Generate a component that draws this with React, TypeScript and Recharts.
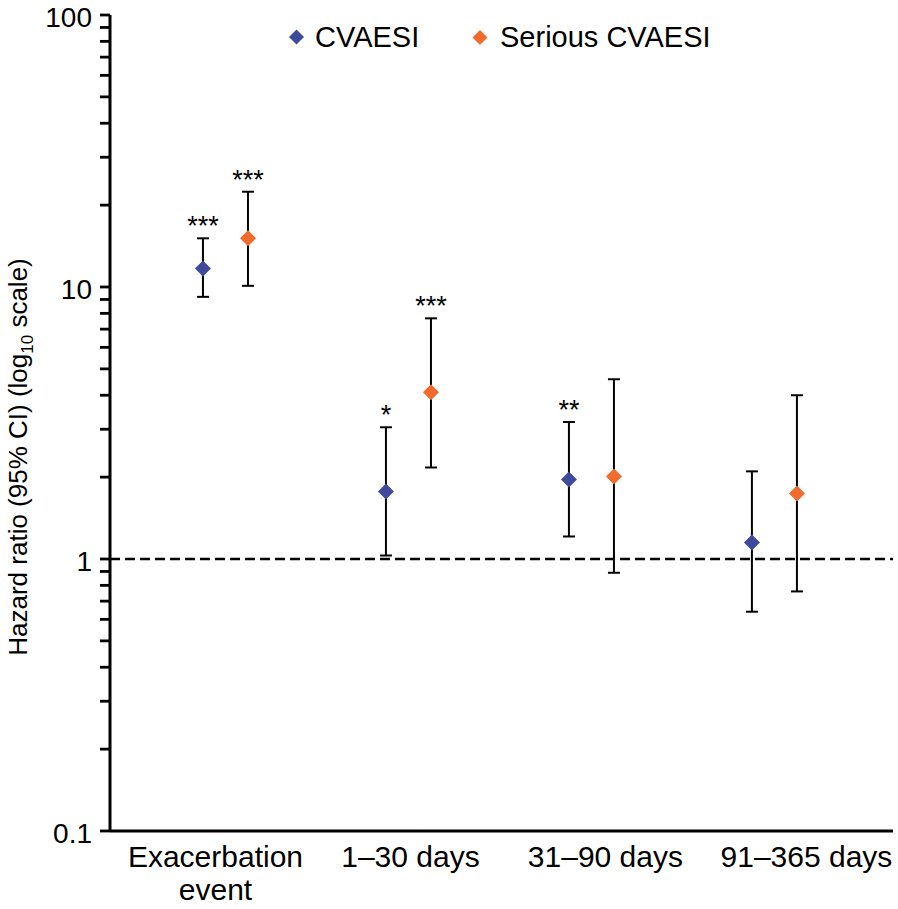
import React from 'react';
import {
  ComposedChart,
  Scatter,
  XAxis,
  YAxis,
  ErrorBar,
  ReferenceLine,
} from 'recharts';

const categories = [['Exacerbation', 'event'], ['1–30 days'], ['31–90 days'], ['91–365 days']];

const cvaesiHR = [11.7, 1.77, 1.96, 1.15];
const cvaesiLow = [9.2, 1.03, 1.21, 0.64];
const cvaesiHigh = [15.1, 3.05, 3.19, 2.1];
const cvaesiStars = ['***', '*', '**', ''];

const seriousHR = [15.1, 4.1, 2.01, 1.74];
const seriousLow = [10.1, 2.17, 0.89, 0.76];
const seriousHigh = [22.4, 7.67, 4.58, 4.0];
const seriousStars = ['***', '***', '', ''];

const yTicks = [
  0.1, 0.2, 0.3, 0.4, 0.5, 0.6, 0.7, 0.8, 0.9,
  1, 2, 3, 4, 5, 6, 7, 8, 9,
  10, 20, 30, 40, 50, 60, 70, 80, 90, 100,
];
const yLabels = [0.1, 1, 10, 100];

const X_MIN = -0.631;
const X_MAX = 3.648;

const BLUE = '#3f4a9b';
const ORANGE = '#f36a2d';
const FONT = '"Liberation Sans", Arial, sans-serif';

// horizontal offset of each series inside a category, in category units
const SHIFT = 0.123;
// small nudges so the x labels sit where the original puts them
const labelNudge = [-10, 2, 14, 32];

const buildSeries = (hr: number[], lo: number[], hi: number[], shift: number) =>
  hr.map((v, i) => ({ x: i + shift, y: v, err: [v - lo[i], hi[i] - v] }));

const buildStars = (hi: number[], stars: string[], shift: number) =>
  hi.map((v, i) => ({ x: i + shift, y: v, label: stars[i] })).filter((d) => d.label);

const cvaesiData = buildSeries(cvaesiHR, cvaesiLow, cvaesiHigh, -SHIFT);
const seriousData = buildSeries(seriousHR, seriousLow, seriousHigh, SHIFT);
const starData = [
  ...buildStars(cvaesiHigh, cvaesiStars, -SHIFT),
  ...buildStars(seriousHigh, seriousStars, SHIFT),
];
// tick marks on the left edge, one per value in yTicks (major and minor)
const tickMarkData = yTicks.map((v) => ({ x: X_MIN, y: v }));

const Diamond = ({ cx, cy, fill, r = 8 }: any) => (
  <path
    d={`M${cx},${cy - r}L${cx + r},${cy}L${cx},${cy + r}L${cx - r},${cy}Z`}
    fill={fill}
  />
);

const StarText = ({ cx, cy, payload }: any) => (
  <text
    x={cx}
    y={cy - 3}
    textAnchor="middle"
    fontSize={27}
    fontFamily={FONT}
    fill="#000"
  >
    {payload.label}
  </text>
);

const TickMark = ({ cx, cy }: any) => (
  <line x1={cx - 10} x2={cx} y1={cy} y2={cy} stroke="#000" strokeWidth={2.8} />
);

const YTick = ({ x, y, payload }: any) => {
  if (!yLabels.includes(payload.value)) return null;
  return (
    <text
      x={x - 7}
      y={y + 2}
      dy="0.36em"
      textAnchor="end"
      fontSize={28}
      fontFamily={FONT}
      fill="#000"
    >
      {String(payload.value)}
    </text>
  );
};

const XTick = ({ x, y, payload }: any) => {
  const i = payload.value as number;
  const lines = categories[i] || [];
  return (
    <g>
      {lines.map((line, k) => (
        <text
          key={k}
          x={x + labelNudge[i]}
          y={y + 36 + k * 33}
          textAnchor="middle"
          fontSize={30}
          fontFamily={FONT}
          fill="#000"
        >
          {line}
        </text>
      ))}
    </g>
  );
};

const YTitle = () => (
  <text
    x={27}
    y={457}
    transform="rotate(-90, 27, 457)"
    textAnchor="middle"
    fontSize={26}
    fontFamily={FONT}
    fill="#000"
  >
    Hazard ratio (95% CI) (log
    <tspan dy={6} fontSize={17}>10</tspan>
    <tspan dy={-6}> scale)</tspan>
  </text>
);

const LegendOverlay = () => (
  <svg
    width={898}
    height={70}
    style={{ position: 'absolute', left: 0, top: 0, pointerEvents: 'none' }}
  >
    <Diamond cx={296.5} cy={37} r={7.5} fill={BLUE} />
    <text x={315} y={47} fontSize={29} fontFamily={FONT} fill="#000">
      CVAESI
    </text>
    <Diamond cx={480} cy={37.5} r={7.5} fill={ORANGE} />
    <text x={500} y={47} fontSize={29} fontFamily={FONT} fill="#000">
      Serious CVAESI
    </text>
  </svg>
);

export default function App() {
  return (
    <div
      style={{
        position: 'absolute',
        left: 0,
        top: 0,
        width: 898,
        height: 909,
        background: '#fff',
      }}
    >
      <ComposedChart
        width={898}
        height={909}
        margin={{ top: 15, right: 5, left: 0, bottom: 0 }}
      >
        <XAxis
          type="number"
          dataKey="x"
          domain={[X_MIN, X_MAX]}
          ticks={[0, 1, 2, 3]}
          tickLine={false}
          tickSize={0}
          tickMargin={0}
          axisLine={{ stroke: '#000', strokeWidth: 3 }}
          height={78}
          tick={<XTick />}
          interval={0}
        />
        <YAxis
          type="number"
          dataKey="y"
          scale="log"
          domain={[0.1, 100]}
          ticks={yTicks}
          interval={0}
          width={110}
          tickSize={9}
          tickMargin={2}
          tickLine={false}
          axisLine={{ stroke: '#000', strokeWidth: 3 }}
          tick={<YTick />}
          label={<YTitle />}
        />
        <ReferenceLine
          y={1}
          stroke="#000"
          strokeWidth={2.5}
          strokeDasharray="10 5"
        />
        <Scatter
          data={tickMarkData}
          isAnimationActive={false}
          shape={(p: any) => <TickMark cx={p.cx} cy={p.cy} />}
        />
        <Scatter
          data={cvaesiData}
          fill={BLUE}
          isAnimationActive={false}
          shape={(p: any) => <Diamond cx={p.cx} cy={p.cy} fill={BLUE} />}
        >
          <ErrorBar
            dataKey="err"
            direction="y"
            width={6}
            stroke="#000"
            strokeWidth={2}
            isAnimationActive={false}
          />
        </Scatter>
        <Scatter
          data={seriousData}
          fill={ORANGE}
          isAnimationActive={false}
          shape={(p: any) => <Diamond cx={p.cx} cy={p.cy} fill={ORANGE} />}
        >
          <ErrorBar
            dataKey="err"
            direction="y"
            width={6}
            stroke="#000"
            strokeWidth={2}
            isAnimationActive={false}
          />
        </Scatter>
        <Scatter
          data={starData}
          isAnimationActive={false}
          shape={(p: any) => <StarText {...p} />}
        />
      </ComposedChart>
      <LegendOverlay />
    </div>
  );
}
